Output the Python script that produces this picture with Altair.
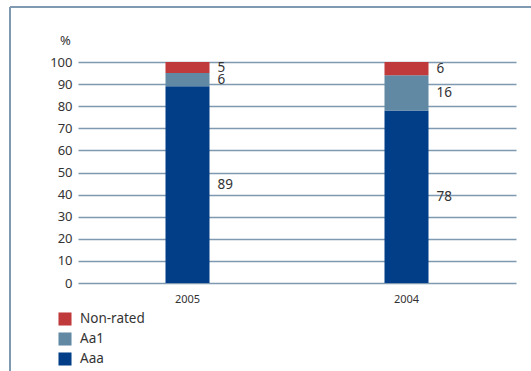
import altair as alt
import pandas as pd

years = ["2005", "2004"]
categories = ["Aaa", "Aa1", "Non-rated"]
aaa = [89, 78]
aa1 = [6, 16]
non_rated = [5, 6]
colors = ["#023e87", "#6189a4", "#c0393b"]
y_ticks = [0, 10, 20, 30, 40, 50, 60, 70, 80, 90, 100]

rows = []
for i, y in enumerate(years):
    for k, (cat, vals) in enumerate(zip(categories, [aaa, aa1, non_rated])):
        rows.append({"year": y, "cat": cat, "value": vals[i], "ord": k})
df = pd.DataFrame(rows)

FONT = "Noto Sans"
GRID = "#7f9ab0"

x_scale = alt.Scale(paddingInner=0.8, paddingOuter=0.4)
y_scale = alt.Scale(domain=[0, 100])

x_axis = alt.Axis(labelAngle=0, ticks=False, domain=False, grid=False,
                  labelFontSize=11, labelColor="#333333",
                  labelPadding=10, labelFont=FONT)
y_axis = alt.Axis(values=y_ticks, labelOverlap=False, ticks=False,
                  domain=False, grid=True, gridColor=GRID, gridWidth=1.5,
                  labelFontSize=13, labelColor="#333333",
                  labelPadding=6, labelFont=FONT,
                  titleAngle=0, titleX=-13, titleY=-22,
                  titleAlign="center", titleBaseline="middle",
                  titleFontSize=13, titleFontWeight="normal",
                  titleColor="#333333", titleFont=FONT)

bars = alt.Chart(df).mark_bar(size=44).encode(
    x=alt.X("year:N", sort=years, title=None, scale=x_scale, axis=x_axis),
    y=alt.Y("value:Q", stack="zero", title="%", scale=y_scale, axis=y_axis),
    color=alt.Color("cat:N",
                    scale=alt.Scale(domain=categories, range=colors),
                    legend=alt.Legend(title=None, orient="none",
                                      legendX=-20, legendY=250,
                                      symbolType="square", symbolSize=170,
                                      symbolStrokeWidth=0, labelOffset=8,
                                      labelFontSize=13.5, labelColor="#333333",
                                      labelFont=FONT, rowPadding=6,
                                      values=["Non-rated", "Aa1", "Aaa"])),
    order=alt.Order("ord:Q", sort="ascending"),
)

labels = alt.Chart(df).transform_stack(
    stack="value", groupby=["year"], sort=[alt.SortField("ord")], as_=["y0", "y1"]
).transform_calculate(
    mid="(datum.y0 + datum.y1) / 2"
).mark_text(align="left", baseline="middle", dx=30, fontSize=13.5,
            color="#333333", font=FONT).encode(
    x=alt.X("year:N", sort=years, title=None, scale=x_scale, axis=x_axis),
    y=alt.Y("mid:Q", title="%", scale=y_scale, axis=y_axis),
    text=alt.Text("value:Q"),
)

frame_left = alt.Chart(df).mark_rule(color=GRID, strokeWidth=2).encode(
    x=alt.value(-68), y=alt.value(-55), y2=alt.value(320))
frame_top = alt.Chart(df).mark_rule(color=GRID, strokeWidth=2).encode(
    x=alt.value(-68), x2=alt.value(460), y=alt.value(-55))

chart = alt.layer(bars, labels, frame_left, frame_top).properties(
    width=438, height=221,
    padding={"left": 78, "top": 62, "right": 15, "bottom": 88},
    autosize=alt.AutoSizeParams(type="none"),
).configure(background="white").configure_view(strokeWidth=0)

chart.save("out.html", embed_options={"renderer": "svg", "actions": False})
